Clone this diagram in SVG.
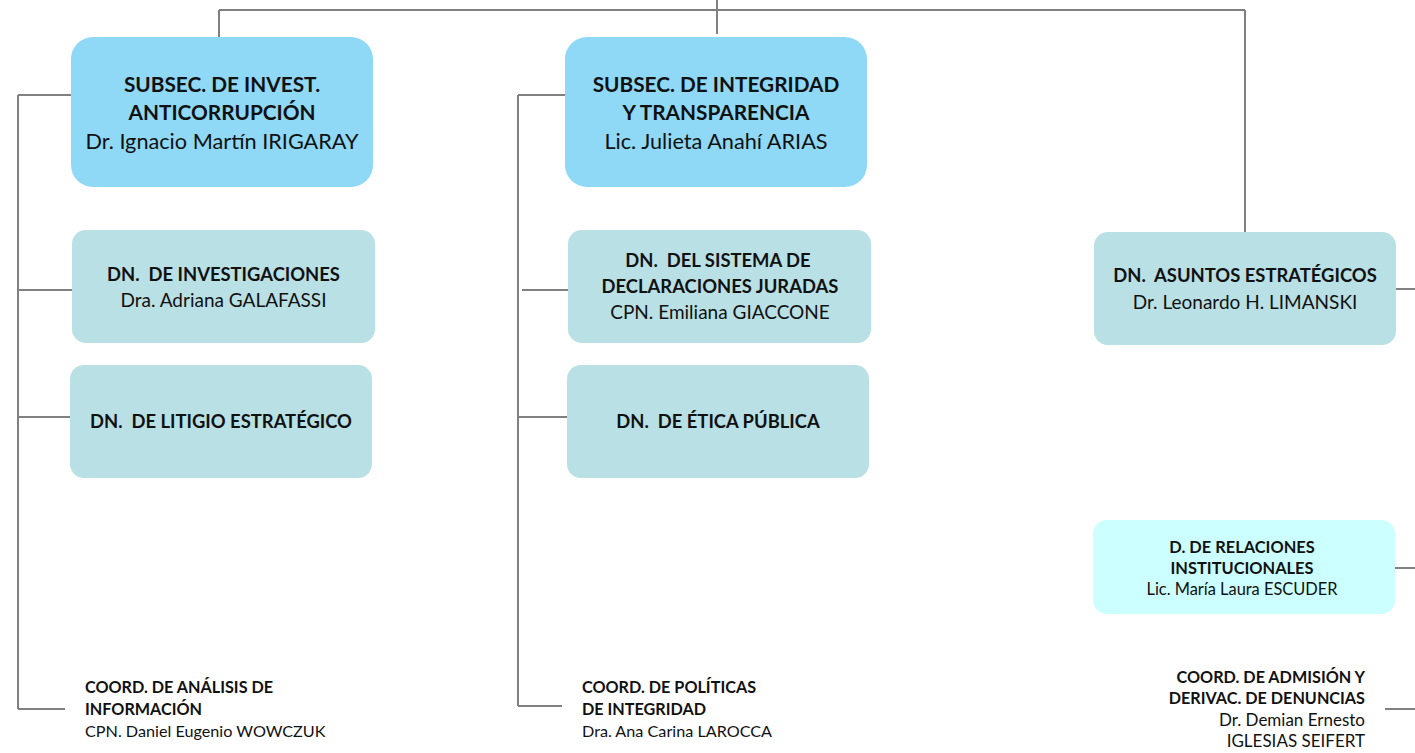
<svg xmlns="http://www.w3.org/2000/svg" width="1415" height="753" viewBox="0 0 1415 753">
<style>
.sub{fill:#8fd9f7}
.dn{fill:#b9e0e4}
.rel{fill:#ccffff}
.ln{stroke:#808080;stroke-width:2;fill:none}
text{font-family:Lato,"Open Sans",sans-serif;fill:#111;white-space:pre}
.b{font-weight:bold}
.t1{font-size:21.7px}
.t1.b{font-size:20.8px}
.t2{font-size:19px}
.t2.b{font-size:18.4px}
.t3{font-size:16.4px}
.t4{font-size:16.2px}
.t5{font-size:17px}
.c{text-anchor:middle}
.r{text-anchor:end}
</style>
<rect width="1415" height="753" fill="#ffffff"/>
<g id="connectors" class="ln">
<path d="M219 10H1245"/>
<path d="M717 0V34"/>
<path d="M219 10V37"/>
<path d="M1245 10V232"/>
<path d="M18 95V709"/>
<path d="M18 95H71"/>
<path d="M18 290H72"/>
<path d="M18 417H70"/>
<path d="M18 709H65"/>
<path d="M518 95V706"/>
<path d="M518 95H565"/>
<path d="M522 290H568"/>
<path d="M518 417H567"/>
<path d="M518 706H562"/>
<path d="M1396 289H1415"/>
<path d="M1395 568H1415"/>
<path d="M1385 709H1415"/>
</g>
<g id="subsec-invest">
<rect class="sub" x="71" y="37" width="302" height="150" rx="22"/>
<text class="t1 b c" x="222" y="92">SUBSEC. DE INVEST.</text>
<text class="t1 b c" x="222" y="120">ANTICORRUPCIÓN</text>
<text class="t1 c" x="222" y="149">Dr. Ignacio Martín IRIGARAY</text>
</g>
<g id="subsec-integridad">
<rect class="sub" x="565" y="37" width="302" height="150" rx="22"/>
<text class="t1 b c" x="716" y="92">SUBSEC. DE INTEGRIDAD</text>
<text class="t1 b c" x="716" y="120">Y TRANSPARENCIA</text>
<text class="t1 c" x="716" y="149">Lic. Julieta Anahí ARIAS</text>
</g>
<g id="dn-investigaciones">
<rect class="dn" x="72" y="230" width="303" height="113" rx="14"/>
<text class="t2 b c" x="223.5" y="281">DN.  DE INVESTIGACIONES</text>
<text class="t2 c" x="223.5" y="307">Dra. Adriana GALAFASSI</text>
</g>
<g id="dn-litigio">
<rect class="dn" x="70" y="365" width="302" height="113" rx="14"/>
<text class="t2 b c" x="221" y="428">DN.  DE LITIGIO ESTRATÉGICO</text>
</g>
<g id="dn-sistema">
<rect class="dn" x="568" y="230" width="303" height="113" rx="14"/>
<text class="t2 b c" x="718" y="267">DN.  DEL SISTEMA DE</text>
<text class="t2 b c" x="720" y="293">DECLARACIONES JURADAS</text>
<text class="t2 c" x="720" y="319">CPN. Emiliana GIACCONE</text>
</g>
<g id="dn-etica">
<rect class="dn" x="567" y="365" width="302" height="113" rx="14"/>
<text class="t2 b c" x="718" y="428">DN.  DE ÉTICA PÚBLICA</text>
</g>
<g id="dn-asuntos">
<rect class="dn" x="1094" y="232" width="302" height="113" rx="14"/>
<text class="t2 b c" x="1245" y="282">DN.  ASUNTOS ESTRATÉGICOS</text>
<text class="t2 c" x="1245" y="309">Dr. Leonardo H. LIMANSKI</text>
</g>
<g id="d-relaciones">
<rect class="rel" x="1093" y="520" width="302" height="94" rx="14"/>
<text class="t3 b c" x="1242" y="553">D. DE RELACIONES</text>
<text class="t3 b c" x="1242" y="574">INSTITUCIONALES</text>
<text class="t3 c" x="1242" y="595">Lic. María Laura ESCUDER</text>
</g>
<g id="coord-analisis">
<text class="t4 b" x="85" y="693">COORD. DE ANÁLISIS DE</text>
<text class="t4 b" x="85" y="715">INFORMACIÓN</text>
<text class="t4" x="85" y="737">CPN. Daniel Eugenio WOWCZUK</text>
</g>
<g id="coord-politicas">
<text class="t4 b" x="582" y="693">COORD. DE POLÍTICAS</text>
<text class="t4 b" x="582" y="715">DE INTEGRIDAD</text>
<text class="t4" x="582" y="737">Dra. Ana Carina LAROCCA</text>
</g>
<g id="coord-admision">
<text class="t4 b r" x="1365" y="683">COORD. DE ADMISIÓN Y</text>
<text class="t4 b r" x="1365" y="704">DERIVAC. DE DENUNCIAS</text>
<text class="t5 r" x="1365" y="726">Dr. Demian Ernesto</text>
<text class="t5 r" x="1365" y="747">IGLESIAS SEIFERT</text>
</g>
</svg>
